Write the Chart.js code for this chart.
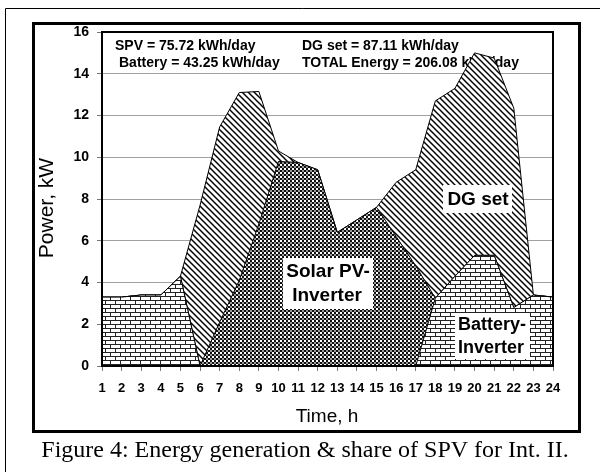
<!DOCTYPE html>
<html>
<head>
<meta charset="utf-8">
<script src="https://cdn.jsdelivr.net/npm/chart.js@4.4.1/dist/chart.umd.min.js"></script>
<style>
  html, body { margin: 0; padding: 0; background: #fff; }
  canvas { display: block; }
</style>
</head>
<body>
<canvas id="chart" width="600" height="472"></canvas>
<script>
// datos (kW por hora, apilados)
const horas = ['1','2','3','4','5','6','7','8','9','10','11','12','13','14','15','16','17','18','19','20','21','22','23','24'];
const bateria = [3.3, 3.3, 3.4, 3.4, 4.3, 0, 0, 0, 0, 0, 0, 0, 0, 0, 0, 0, 0, 3.25, 4.3, 5.3, 5.3, 2.8, 3.4, 3.3];
const solar = [0, 0, 0, 0, 0, 0, 2.1, 4.1, 6.8, 9.8, 9.75, 9.4, 6.4, 7.0, 7.6, 6.2, 4.8, 0, 0, 0, 0, 0, 0, 0];
const dgSet = [0, 0, 0, 0, 0, 7.7, 9.35, 9.0, 6.35, 0.5, 0, 0, 0, 0, 0, 2.6, 4.6, 9.45, 9.0, 9.7, 9.45, 9.55, 0, 0];
const yTicks = [0, 2, 4, 6, 8, 10, 12, 14, 16];

const textosEnergia = [
  ['SPV = 75.72 kWh/day', 115, 46],
  ['Battery = 43.25 kWh/day', 119, 63],
  ['DG set = 87.11 kWh/day', 302, 46],
  ['TOTAL Energy = 206.08 kWh/day', 302, 63]
];
const caption = 'Figure 4: Energy generation & share of SPV for Int. II.';

const SANS = '"Liberation Sans", Arial, sans-serif';

// patrones de relleno
function patronLadrillo() {
  const c = document.createElement('canvas');
  c.width = 10; c.height = 8;
  const g = c.getContext('2d');
  g.fillStyle = '#fff'; g.fillRect(0, 0, 10, 8);
  g.fillStyle = '#222';
  g.fillRect(0, 0, 10, 1); g.fillRect(0, 4, 10, 1);
  g.fillRect(0, 0, 1, 4); g.fillRect(5, 4, 1, 4);
  return g.createPattern(c, 'repeat');
}

function patronPuntos() {
  const c = document.createElement('canvas');
  c.width = 4; c.height = 4;
  const g = c.getContext('2d');
  g.fillStyle = '#111'; g.fillRect(0, 0, 4, 4);
  g.fillStyle = '#fff'; g.fillRect(0, 0, 2, 2);
  g.fillStyle = '#999'; g.fillRect(2, 2, 2, 2);
  return g.createPattern(c, 'repeat');
}

function patronDiagonal() {
  const s = 6;
  const c = document.createElement('canvas');
  c.width = s; c.height = s;
  const g = c.getContext('2d');
  g.fillStyle = '#fff'; g.fillRect(0, 0, s, s);
  g.strokeStyle = '#000'; g.lineWidth = 1.5;
  [-s, 0, s].forEach(k => {
    g.beginPath();
    g.moveTo(k - 1, -1);
    g.lineTo(k + s + 1, s + 1);
    g.stroke();
  });
  return g.createPattern(c, 'repeat');
}

function cajaTexto(ctx, x, y, w, h) {
  ctx.fillStyle = '#fff';
  ctx.fillRect(x, y, w, h);
}

const decoracion = {
  id: 'decoracion',
  beforeDraw(chart) {
    const ctx = chart.ctx;
    ctx.save();
    ctx.fillStyle = '#fff';
    ctx.fillRect(0, 0, chart.width, chart.height);

    // marco fino exterior
    ctx.strokeStyle = '#000';
    ctx.lineWidth = 1;
    ctx.beginPath();
    ctx.moveTo(5.5, 472); ctx.lineTo(5.5, 8.5); ctx.lineTo(600, 8.5);
    ctx.stroke();

    // marco grueso del grafico
    ctx.lineWidth = 3;
    ctx.strokeRect(33.5, 23.5, 546, 408);

    // pie de figura
    ctx.fillStyle = '#000';
    ctx.font = '24px "Liberation Serif", "Times New Roman", serif';
    ctx.textAlign = 'center';
    ctx.textBaseline = 'alphabetic';
    ctx.fillText(caption, 305, 457);

    // titulos de ejes
    ctx.font = '19px ' + SANS;
    ctx.textBaseline = 'middle';
    ctx.fillText('Time, h', 327, 417);
    ctx.save();
    ctx.translate(47, 208);
    ctx.rotate(-Math.PI / 2);
    ctx.font = '21px ' + SANS;
    ctx.fillText('Power, kW', 0, 0);
    ctx.restore();

    // textos de energia (quedan debajo de las areas)
    ctx.font = 'bold 14px ' + SANS;
    ctx.textAlign = 'left';
    textosEnergia.forEach(([t, x, y]) => ctx.fillText(t, x, y));
    ctx.restore();
  },
  afterDatasetsDraw(chart) {
    const ctx = chart.ctx;
    const a = chart.chartArea;
    ctx.save();
    ctx.strokeStyle = '#000';
    ctx.lineWidth = 2;
    ctx.strokeRect(a.left, a.top, a.right - a.left, a.bottom - a.top);

    ctx.textAlign = 'center';
    ctx.textBaseline = 'middle';

    cajaTexto(ctx, 443, 185, 69, 28);
    ctx.fillStyle = '#000';
    ctx.font = 'bold 19px ' + SANS;
    ctx.fillText('DG set', 478, 200);

    cajaTexto(ctx, 283, 258, 90, 51);
    ctx.fillStyle = '#000';
    ctx.fillText('Solar PV-', 328, 272);
    ctx.fillText('Inverter', 327, 296);

    cajaTexto(ctx, 455, 313, 75, 46);
    ctx.fillStyle = '#000';
    ctx.font = 'bold 18px ' + SANS;
    ctx.fillText('Battery-', 492, 325);
    ctx.fillText('Inverter', 491, 348);
    ctx.restore();
  }
};

new Chart(document.getElementById('chart'), {
  type: 'line',
  data: {
    labels: horas,
    datasets: [
      { label: 'Battery-Inverter', data: bateria, fill: 'origin', backgroundColor: patronLadrillo() },
      { label: 'Solar PV-Inverter', data: solar, fill: '-1', backgroundColor: patronPuntos() },
      { label: 'DG set', data: dgSet, fill: '-1', backgroundColor: patronDiagonal() }
    ]
  },
  options: {
    responsive: false,
    devicePixelRatio: 1,
    animation: false,
    layout: { padding: { left: 0, top: 32, right: 47, bottom: 0 } },
    elements: {
      point: { radius: 0 },
      line: { tension: 0, borderColor: '#000', borderWidth: 1 }
    },
    plugins: { legend: { display: false }, tooltip: { enabled: false } },
    scales: {
      x: {
        offset: false,
        afterFit: s => { s.height = 106; },
        border: { display: false },
        grid: { drawOnChartArea: false, tickLength: 5, tickColor: '#777' },
        ticks: {
          autoSkip: false, maxRotation: 0, padding: 10, color: '#000',
          font: { family: SANS, size: 13, weight: 'bold' }
        }
      },
      y: {
        stacked: true,
        min: 0,
        max: 16,
        afterFit: s => { s.width = 102; },
        afterBuildTicks: s => { s.ticks = yTicks.map(v => ({ value: v })); },
        border: { display: false },
        grid: { color: '#a0a0a0', tickLength: 5, tickColor: '#777' },
        ticks: {
          padding: 8, color: '#000',
          font: { family: SANS, size: 14, weight: 'bold' }
        }
      }
    }
  },
  plugins: [decoracion]
});
</script>
</body>
</html>
